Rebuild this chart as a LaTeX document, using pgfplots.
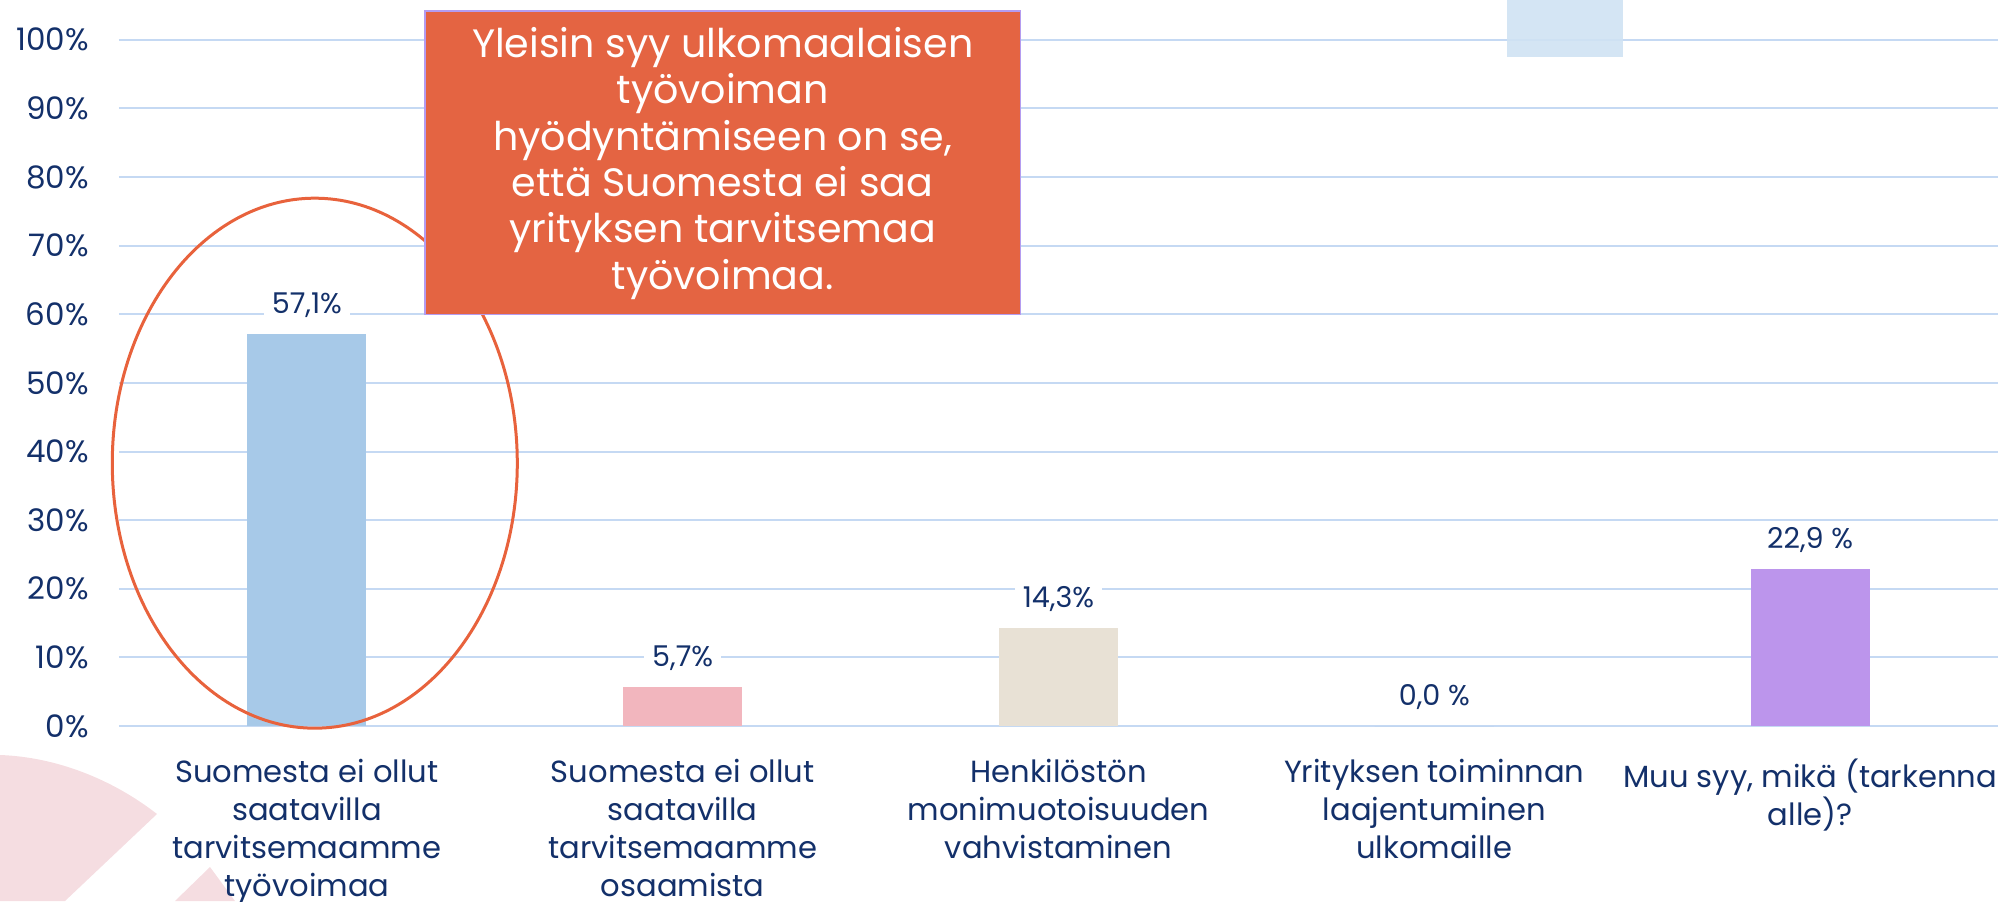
\documentclass[border=0pt]{standalone}
\usepackage{pgfplots}
\pgfplotsset{compat=1.18}
\usepackage{fontspec}
\setmainfont{Poppins}
\definecolor{navy}{HTML}{13306A}
\definecolor{gridc}{HTML}{C5D9F3}
\definecolor{cA}{HTML}{A7C9E8}
\definecolor{cB}{HTML}{F2B6BE}
\definecolor{cC}{HTML}{E8E1D5}
\definecolor{cD}{HTML}{CFE2F3}
\definecolor{cE}{HTML}{BC95EC}
\definecolor{boxc}{HTML}{E46442}
\definecolor{lav}{HTML}{B49CF0}
\definecolor{ellc}{HTML}{E8623C}
\definecolor{pinkdeco}{HTML}{F5DDE1}
\begin{document}
\begin{tikzpicture}
\useasboundingbox (0,0) rectangle (1001pt,450.5pt);
\fill[pinkdeco] (0,73pt) .. controls (28pt,72pt) and (56pt,61pt) .. (78.5pt,43.5pt) -- (32.5pt,0) -- (0,0) -- cycle;
\fill[pinkdeco] (87.5pt,0) -- (105pt,17pt) -- (117.5pt,0) -- cycle;
\begin{axis}[
  at={(59.5pt,87.5pt)}, anchor=south west,
  scale only axis, width=939.5pt, height=363pt,
  xmin=-0.5, xmax=4.5, ymin=0, ymax=105.8,
  axis line style={draw=none},
  major tick length=0pt,
  xtick style={draw=none}, ytick style={draw=none},
  ymajorgrids, grid style={gridc, line width=1pt},
  ytick={0,10,...,100},
  yticklabels={0\%,10\%,20\%,30\%,40\%,50\%,60\%,70\%,80\%,90\%,100\%},
  xtick={0,1,2,3,4},
  xticklabels={{Suomesta ei ollut\\saatavilla\\tarvitsemaamme\\työvoimaa},
               {Suomesta ei ollut\\saatavilla\\tarvitsemaamme\\osaamista},
               {Henkilöstön\\monimuotoisuuden\\vahvistaminen},
               {Yrityksen toiminnan\\laajentuminen\\ulkomaille},
               {Muu syy, mikä (tarkenna\\alle)?}},
  tick label style={text=navy, inner sep=0pt},
  yticklabel style={font=\fontsize{15.5}{18}\selectfont, anchor=east, xshift=-15pt},
  xticklabel style={font=\fontsize{15.3}{19}\selectfont, align=center, anchor=north, yshift=-16.5pt},
  ybar, bar width=59.5pt,
  clip=false,
  nodes near coords, point meta=explicit symbolic,
  every node near coord/.append style={anchor=center, yshift=14.5pt, fill=white, inner xsep=4pt, inner ysep=1pt, text=navy, font=\fontsize{14.3}{18}\selectfont},
]
\addplot[fill=cA, draw=none, bar shift=0pt] coordinates {(0,57.1) [57,1\%]};
\addplot[fill=cB, draw=none, bar shift=0pt] coordinates {(1,5.7) [5,7\%]};
\addplot[fill=cC, draw=none, bar shift=0pt] coordinates {(2,14.3) [14,3\%]};
\addplot[fill=cA, draw=none, bar shift=0pt] coordinates {(3,0) [0,0 \%]};
\addplot[fill=cE, draw=none, bar shift=0pt] coordinates {(4,22.9) [22,9 \%]};
\fill[cD, opacity=0.9] (axis cs:3.194,97.5) rectangle (axis cs:3.503,105.8);
\draw[ellc, line width=1.5pt] (axis cs:0.021,38.3) ellipse [x radius=101.25pt, y radius=132.5pt];
\filldraw[fill=boxc, draw=lav, line width=0.7pt] (axis cs:0.314,60.0) rectangle (axis cs:1.899,104.2);
\node[text=white, align=center, font=\fontsize{19.8}{23.2}\selectfont] at (axis cs:1.1065,82.0)
  {Yleisin syy ulkomaalaisen\\työvoiman\\hyödyntämiseen on se,\\että Suomesta ei saa\\yrityksen tarvitsemaa\\työvoimaa.};
\end{axis}
\end{tikzpicture}
\end{document}
